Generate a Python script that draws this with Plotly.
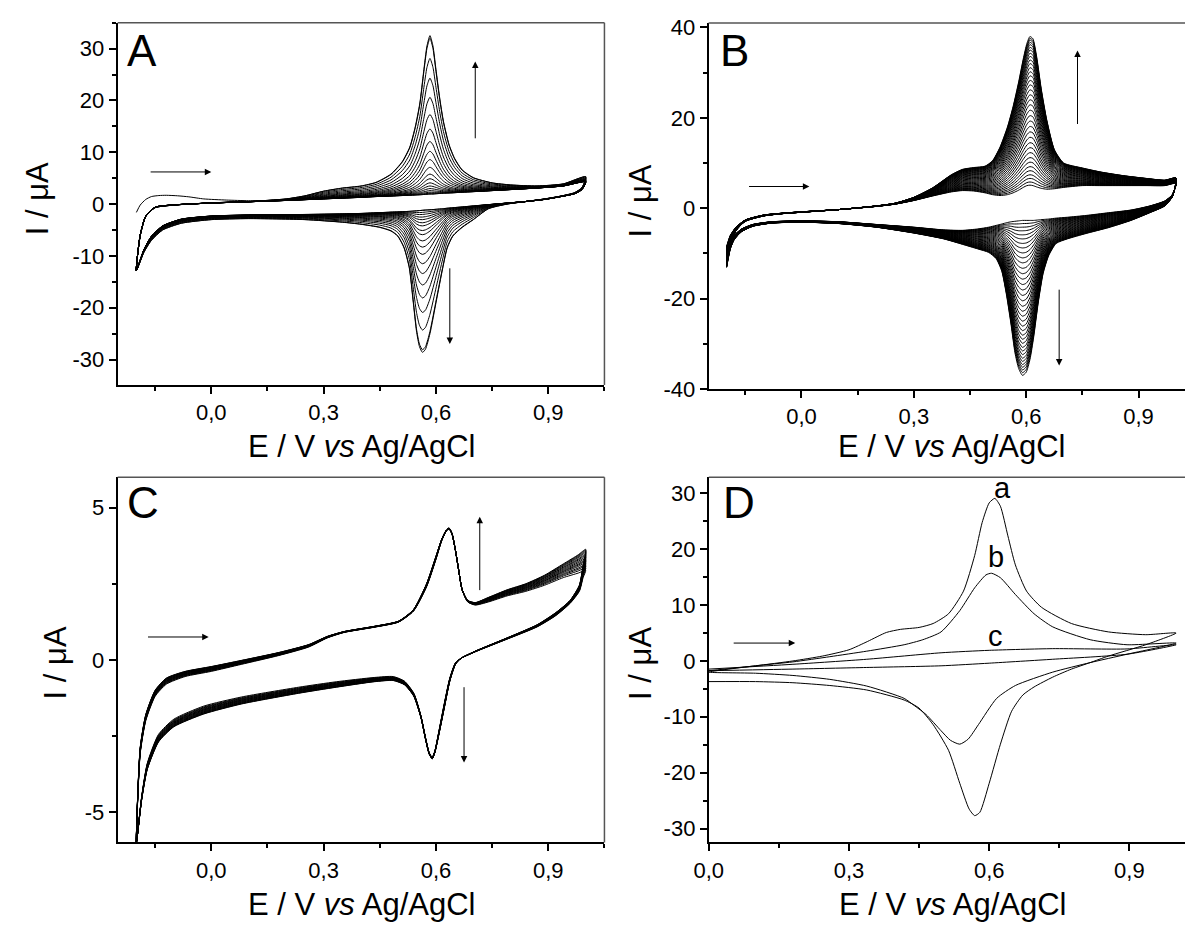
import plotly.graph_objects as go

W, H = 1185, 932

# ---------------- Panel A (multi-cycle CV) ----------------
A_E_fwd = [-0.20, -0.19, -0.175, -0.15, -0.10, 0.00, 0.10, 0.20, 0.25, 0.30, 0.35, 0.40, 0.44, 0.48,
           0.51, 0.53, 0.545, 0.557, 0.567, 0.576, 0.584, 0.592, 0.60, 0.61, 0.62, 0.635, 0.65, 0.67,
           0.70, 0.75, 0.80, 0.87, 0.94, 1.00]
A_I_fwd_base = [-12.8, -6.0, -2.3, -0.6, -0.15, 0.2, 0.45, 0.7, 0.85, 1.0, 1.15, 1.3, 1.45, 1.55,
                1.65, 1.7, 1.75, 1.8, 1.85, 1.9, 1.95, 1.95, 2.0, 2.05, 2.1, 2.15, 2.2, 2.3,
                2.4, 2.6, 2.8, 3.1, 3.5, 4.3]
A_I_fwd_last = [-12.8, -6.2, -2.4, -0.7, -0.2, 0.25, 0.5, 1.0, 1.6, 2.5, 3.1, 3.5, 4.2, 5.8,
                8.2, 11.0, 15.0, 19.5, 25.5, 30.5, 32.5, 30.5, 26.0, 20.5, 16.0, 11.5, 8.8, 6.6,
                5.1, 4.1, 3.7, 3.5, 3.9, 5.3]
A_E_rev = [0.99, 0.97, 0.93, 0.89, 0.84, 0.79, 0.74, 0.70, 0.67, 0.645, 0.63, 0.618, 0.601, 0.584,
           0.572, 0.564, 0.556, 0.548, 0.539, 0.529, 0.515, 0.498, 0.48, 0.45, 0.40, 0.35, 0.25,
           0.10, 0.00, -0.08, -0.13, -0.16, -0.18, -0.20]
A_I_rev_base = [2.8, 2.0, 1.4, 0.9, 0.5, 0.2, -0.1, -0.35, -0.55, -0.7, -0.8, -0.9, -1.0, -1.1,
                -1.15, -1.2, -1.25, -1.3, -1.35, -1.4, -1.45, -1.5, -1.55, -1.65, -1.8, -1.9, -2.0,
                -2.1, -2.3, -2.9, -4.2, -6.2, -8.8, -12.8]
A_I_rev_last = [3.2, 2.2, 1.5, 1.0, 0.5, 0.0, -0.9, -3.0, -4.5, -6.2, -8.5, -12.4, -18.7, -25.0,
                -28.0, -28.6, -27.5, -24.5, -18.7, -12.4, -8.5, -6.2, -5.2, -4.5, -3.9, -3.5, -3.0,
                -2.8, -3.0, -3.7, -5.0, -7.0, -9.3, -12.8]
A_anodic_peaks = [1.95, 2.1, 2.3, 2.6, 3.0, 3.5, 4.1, 4.9, 5.8, 7.1, 8.6, 10.2, 12.1, 14.5, 17.3,
                  20.6, 24.3, 28.1, 32.0, 32.5]
A_cathodic_peaks = [-1.2, -1.6, -2.0, -2.5, -3.0, -3.6, -4.2, -5.1, -5.9, -7.1, -8.3, -9.7, -11.5,
                    -13.4, -15.6, -18.1, -20.9, -24.3, -28.1, -28.6]
# first (initial) scan start of panel A
A_first_E = [-0.20, -0.19, -0.175, -0.16, -0.14, -0.12, -0.09, -0.06, -0.02, 0.04, 0.10, 0.15]
A_first_I = [-1.6, -0.2, 0.9, 1.45, 1.65, 1.7, 1.6, 1.4, 1.0, 0.78, 0.65, 0.62]

# ---------------- Panel B ----------------
B_E_fwd = [-0.20, -0.19, -0.175, -0.15, -0.10, -0.05, 0.00, 0.10, 0.20, 0.25, 0.30, 0.35, 0.40,
           0.43, 0.46, 0.49, 0.51, 0.53, 0.55, 0.565, 0.58, 0.592, 0.602, 0.61, 0.618, 0.628,
           0.64, 0.655, 0.675, 0.70, 0.75, 0.80, 0.86, 0.92, 0.97, 1.00]
B_I_fwd_base = [-8.5, -6.0, -4.2, -2.6, -1.5, -1.1, -0.8, -0.3, 0.4, 0.9, 1.7, 2.7, 3.6,
                3.9, 3.8, 3.4, 3.0, 2.8, 3.0, 3.4, 4.0, 4.6, 5.0, 5.1, 5.0, 4.7,
                4.4, 4.2, 4.3, 4.6, 5.0, 5.0, 5.0, 5.0, 5.0, 5.5]
B_I_fwd_last = [-13.1, -8.0, -5.0, -2.9, -1.7, -1.2, -0.9, -0.3, 0.5, 1.1, 2.4, 4.5, 7.4,
                8.6, 9.0, 9.3, 10.5, 13.5, 18.0, 22.5, 28.0, 33.0, 36.5, 38.0, 37.5, 33.5,
                26.5, 19.5, 13.0, 10.0, 8.9, 8.0, 7.2, 6.6, 6.2, 6.7]
B_E_rev = [0.99, 0.97, 0.93, 0.88, 0.82, 0.76, 0.71, 0.68, 0.66, 0.645, 0.632, 0.62, 0.61, 0.60,
           0.59, 0.58, 0.57, 0.56, 0.548, 0.535, 0.52, 0.50, 0.47, 0.43, 0.38, 0.30, 0.20, 0.10,
           0.00, -0.08, -0.13, -0.16, -0.18, -0.19, -0.20]
B_I_rev_base = [3.0, 1.6, 0.5, -0.4, -1.0, -1.6, -2.0, -2.2, -2.4, -2.5, -2.6, -2.7, -2.7, -2.7,
                -2.7, -2.8, -2.9, -3.0, -3.2, -3.5, -3.8, -4.2, -4.6, -4.9, -4.8, -4.2, -3.6, -3.0,
                -2.8, -3.0, -3.6, -4.6, -6.0, -7.0, -8.5]
B_I_rev_last = [2.5, 0.5, -1.0, -2.7, -4.3, -5.6, -6.8, -7.8, -10.5, -14.5, -21.0, -28.5, -33.5,
                -36.3, -37.0, -35.5, -32.0, -26.0, -19.5, -14.0, -11.2, -9.8, -9.0, -8.0, -6.8,
                -5.5, -4.2, -3.4, -3.1, -3.3, -4.0, -5.2, -7.0, -9.0, -13.1]
B_anodic_peaks = [5.1, 5.8, 6.6, 7.4, 8.3, 9.2, 10.2, 11.2, 12.3, 13.4, 14.5, 15.7, 16.9, 18.1,
                  19.3, 20.5, 21.7, 22.9, 24.0, 25.1, 26.2, 27.3, 28.3, 29.3, 30.2, 31.1, 32.0,
                  32.8, 33.6, 34.3, 35.0, 35.6, 36.2, 36.7, 37.2, 37.6, 38.0]
B_cathodic_peaks = [-2.7, -3.4, -4.2, -5.0, -5.9, -6.8, -7.8, -8.8, -9.9, -11.0, -12.1, -13.3,
                    -14.5, -15.7, -16.9, -18.1, -19.3, -20.5, -21.7, -22.8, -23.9, -25.0, -26.1,
                    -27.1, -28.1, -29.0, -29.9, -30.8, -31.6, -32.4, -33.2, -33.9, -34.6, -35.2,
                    -35.8, -36.4, -37.0]

# ---------------- Panel C ----------------
C_E_fwd = [-0.20, -0.19, -0.175, -0.15, -0.12, -0.07, 0.00, 0.08, 0.18, 0.26, 0.31, 0.355, 0.435,
           0.50, 0.54, 0.575, 0.60, 0.615, 0.627, 0.635, 0.643, 0.652, 0.66, 0.67, 0.685, 0.705,
           0.74, 0.79, 0.84, 0.89, 0.94, 0.98, 1.00]
C_I_fwd_base = [-6.0, -3.1, -2.0, -1.2, -0.8, -0.55, -0.38, -0.15, 0.14, 0.42, 0.72, 0.9, 1.07,
                1.24, 1.6, 2.4, 3.3, 3.9, 4.22, 4.3, 4.12, 3.6, 3.0, 2.3, 1.9, 1.8,
                1.9, 2.1, 2.25, 2.45, 2.7, 2.85, 2.94]
C_I_fwd_last = [-6.0, -2.9, -1.8, -1.0, -0.6, -0.38, -0.22, -0.02, 0.24, 0.5, 0.77, 0.93, 1.1,
                1.27, 1.65, 2.5, 3.4, 3.95, 4.25, 4.33, 4.15, 3.6, 3.0, 2.3, 1.95, 1.88,
                2.05, 2.3, 2.5, 2.78, 3.15, 3.45, 3.63]
C_E_rev = [0.993, 0.983, 0.958, 0.92, 0.87, 0.79, 0.708, 0.667, 0.652, 0.637, 0.622, 0.607, 0.597,
           0.59, 0.582, 0.572, 0.56, 0.541, 0.516, 0.486, 0.435, 0.334, 0.233, 0.081, -0.02,
           -0.10, -0.141, -0.171, -0.186, -0.20]
C_I_rev_base = [2.7, 2.25, 1.85, 1.45, 1.08, 0.68, 0.28, 0.05, -0.1, -0.6, -1.45, -2.4, -3.0,
                -3.2, -3.05, -2.55, -1.85, -1.1, -0.7, -0.55, -0.58, -0.72, -0.9, -1.22, -1.52,
                -1.95, -2.45, -3.4, -4.5, -6.0]
C_I_rev_last = [3.1, 2.45, 1.95, 1.55, 1.15, 0.72, 0.3, 0.05, -0.15, -0.7, -1.6, -2.5, -3.05,
                -3.25, -3.1, -2.6, -1.9, -1.2, -0.82, -0.68, -0.72, -0.9, -1.1, -1.45, -1.78,
                -2.2, -2.7, -3.6, -4.6, -6.0]
C_end_currents = [2.94, 3.02, 3.08, 3.13, 3.19, 3.24, 3.28, 3.33, 3.38, 3.43, 3.47, 3.52, 3.56,
                  3.60, 3.63]

# ---------------- Panel D (curves a, b, c) ----------------
D_a_E = [0.0, 0.1, 0.18, 0.243, 0.3, 0.34, 0.38, 0.41, 0.45, 0.48, 0.513, 0.545, 0.569, 0.585,
         0.6, 0.612, 0.624, 0.64, 0.656, 0.68, 0.712, 0.776, 0.855, 0.935, 1.0,
         0.935, 0.855, 0.816, 0.776, 0.736, 0.696, 0.672, 0.648, 0.624, 0.6, 0.58, 0.569, 0.557,
         0.537, 0.513, 0.48, 0.45, 0.418, 0.338, 0.259, 0.18, 0.1, 0.0]
D_a_I = [-1.75, -0.87, 0.0, 0.87, 2.0, 3.5, 5.1, 5.65, 6.0, 6.7, 8.45, 12.5, 18.9, 24.8,
         28.3, 29.1, 27.7, 22.4, 17.2, 12.5, 9.6, 6.7, 5.2, 4.7, 5.0,
         2.9, 0.87, -0.3, -1.46, -2.9, -4.66, -6.1, -9.0, -14.9, -21.9, -27.1, -27.7, -26.5,
         -21.9, -16.0, -11.4, -8.45, -7.0, -5.2, -4.4, -3.9, -3.7, -3.7]
D_b_E = [0.0, 0.1, 0.18, 0.259, 0.338, 0.418, 0.458, 0.497, 0.537, 0.569, 0.593, 0.605, 0.624,
         0.656, 0.696, 0.736, 0.816, 0.895, 1.0,
         0.895, 0.816, 0.736, 0.656, 0.616, 0.577, 0.555, 0.537, 0.517, 0.497, 0.465, 0.44, 0.418,
         0.338, 0.259, 0.18, 0.1, 0.0]
D_b_I = [-2.0, -0.87, -0.17, 0.76, 1.75, 2.9, 3.8, 5.2, 9.0, 13.1, 15.4, 15.7, 14.9,
         11.9, 8.45, 6.1, 3.8, 2.9, 3.2,
         1.2, -0.3, -2.0, -4.4, -6.7, -11.4, -14.0, -14.9, -14.2, -12.5, -9.6, -8.0, -6.7,
         -4.5, -3.3, -2.6, -2.2, -2.0]
D_c_E = [0.0, 0.18, 0.338, 0.497, 0.6, 0.736, 0.895, 1.0,
         0.895, 0.736, 0.6, 0.497, 0.338, 0.18, 0.0]
D_c_I = [-1.46, -0.6, 0.3, 1.46, 1.9, 2.2, 2.15, 2.9,
         1.2, 0.3, -0.4, -0.87, -1.17, -1.46, -1.75]
D_labels = ["a", "b", "c"]
D_label_E = [0.629, 0.615, 0.613]
D_label_I = [31.0, 18.6, 4.5]

# tick labels
X_TICKS = [0.0, 0.3, 0.6, 0.9]
X_TICKTEXT = ["0,0", "0,3", "0,6", "0,9"]
A_YTICKS = [-30, -20, -10, 0, 10, 20, 30]
B_YTICKS = [-40, -20, 0, 20, 40]
C_YTICKS = [-5, 0, 5]
D_YTICKS = [-30, -20, -10, 0, 10, 20, 30]

FONT = "Liberation Sans, Arial, sans-serif"
TICKSIZE = 22


def blend(base, last, value, idx):
    f = (value - base[idx]) / (last[idx] - base[idx])
    return [b + f * (l - b) for b, l in zip(base, last)]


fig = go.Figure()


def add(x, y, n):
    fig.add_trace(go.Scatter(x=x, y=y, mode="lines",
                             line=dict(color="black", width=1, shape="spline", smoothing=0.6),
                             xaxis="x" + ("" if n == 1 else str(n)), yaxis="y" + ("" if n == 1 else str(n)),
                             showlegend=False, hoverinfo="skip"))


# Panel A
ia = A_I_fwd_last.index(max(A_I_fwd_last))
ic = A_I_rev_last.index(min(A_I_rev_last))
first_x = A_first_E + [e for e in A_E_fwd if e >= 0.2] + A_E_rev
first_y = A_first_I + [i for e, i in zip(A_E_fwd, A_I_fwd_base) if e >= 0.2] + A_I_rev_base
add(first_x, first_y, 1)
for pa, pc in zip(A_anodic_peaks, A_cathodic_peaks):
    y = blend(A_I_fwd_base, A_I_fwd_last, pa, ia) + blend(A_I_rev_base, A_I_rev_last, pc, ic)
    add(A_E_fwd + A_E_rev, y, 1)

# Panel B
ia = B_I_fwd_last.index(max(B_I_fwd_last))
ic = B_I_rev_last.index(min(B_I_rev_last))
for pa, pc in zip(B_anodic_peaks, B_cathodic_peaks):
    y = blend(B_I_fwd_base, B_I_fwd_last, pa, ia) + blend(B_I_rev_base, B_I_rev_last, pc, ic)
    add(B_E_fwd + B_E_rev, y, 2)

# Panel C
ie = len(C_E_fwd) - 1
for v in C_end_currents:
    f = (v - C_I_fwd_base[ie]) / (C_I_fwd_last[ie] - C_I_fwd_base[ie])
    y = [b + f * (l - b) for b, l in zip(C_I_fwd_base, C_I_fwd_last)] + \
        [b + f * (l - b) for b, l in zip(C_I_rev_base, C_I_rev_last)]
    add(C_E_fwd + C_E_rev, y, 3)

# Panel D
add(D_a_E, D_a_I, 4)
add(D_b_E, D_b_I, 4)
add(D_c_E, D_c_I, 4)


def px(x):
    return x / W


def py(y):
    return 1 - y / H


def xax(dom, rng, minor_vals, ticks=X_TICKS, text=X_TICKTEXT):
    return dict(domain=[px(dom[0]), px(dom[1])], range=rng, tickmode="array", tickvals=ticks,
                ticktext=text, ticks="outside", ticklen=7, tickwidth=1.5, tickcolor="black",
                showline=True, linewidth=2, linecolor="black", mirror=False, showgrid=False,
                zeroline=False, tickfont=dict(size=TICKSIZE, color="black", family=FONT),
                minor=dict(tickmode="array", tickvals=minor_vals, ticks="outside", ticklen=4,
                           tickwidth=1.5, tickcolor="black", showgrid=False))


def yax(dom, rng, ticks, minor_vals, anchor):
    return dict(domain=[py(dom[1]), py(dom[0])], range=rng, tickmode="array", tickvals=ticks,
                ticktext=[str(t) for t in ticks], ticks="outside", ticklen=7, tickwidth=1.5,
                tickcolor="black", showline=True, linewidth=2, linecolor="black", mirror=False,
                showgrid=False, zeroline=False, anchor=anchor,
                tickfont=dict(size=TICKSIZE, color="black", family=FONT),
                minor=dict(tickmode="array", tickvals=minor_vals, ticks="outside", ticklen=4,
                           tickwidth=1.5, tickcolor="black", showgrid=False))


A_dom_x, A_dom_y = (104, 597), (15, 385.7)
B_dom_x, B_dom_y = (702.5, 1185), (15.3, 389.7)
C_dom_x, C_dom_y = (104, 597), (480, 853.7)
D_dom_x, D_dom_y = (702.7, 1185), (480, 853.7)

fig.update_layout(
    width=W, height=H, margin=dict(l=0, r=0, t=0, b=0),
    paper_bgcolor="white", plot_bgcolor="white",
    font=dict(family=FONT, color="black"),
    xaxis=dict(xax(A_dom_x, [-0.25, 1.05], [-0.15, 0.15, 0.45, 0.75, 1.05]), anchor="y"),
    yaxis=yax(A_dom_y, [-34.9, 35.0], A_YTICKS, [-25, -15, -5, 5, 15, 25, 35], "x"),
    xaxis2=dict(xax(B_dom_x, [-0.248, 1.024], [-0.15, 0.15, 0.45, 0.75]), anchor="y2"),
    yaxis2=yax(B_dom_y, [-40, 41], B_YTICKS, [-30, -10, 10, 30], "x2"),
    xaxis3=dict(xax(C_dom_x, [-0.25, 1.05], [-0.15, 0.15, 0.45, 0.75, 1.05]), anchor="y3"),
    yaxis3=yax(C_dom_y, [-6, 6], C_YTICKS, [-2.5, 2.5], "x3"),
    xaxis4=dict(xax(D_dom_x, [0, 1.019], [0.15, 0.45, 0.75]), anchor="y4"),
    yaxis4=yax(D_dom_y, [-32.5, 32.9], D_YTICKS, [-25, -15, -5, 5, 15, 25], "x4"),
)

# thin top / right frame lines
shapes = []
for (dx, dy, right) in [(A_dom_x, A_dom_y, True), (B_dom_x, B_dom_y, False),
                        (C_dom_x, C_dom_y, True), (D_dom_x, D_dom_y, False)]:
    shapes.append(dict(type="line", xref="paper", yref="paper", x0=px(dx[0]), x1=px(dx[1]),
                       y0=py(dy[0]), y1=py(dy[0]), line=dict(color="#555", width=1.5)))
    if right:
        shapes.append(dict(type="line", xref="paper", yref="paper", x0=px(dx[1]), x1=px(dx[1]),
                           y0=py(dy[0]), y1=py(dy[1]), line=dict(color="#555", width=1.5)))
fig.update_layout(shapes=shapes)

ann = []
XTITLE = "E / V <i>vs</i> Ag/AgCl"
YTITLE = "I / \u03bcA"
for (cx, cy) in [(350.5, 449), (948, 449), (350.5, 917), (950, 917)]:
    ann.append(dict(text=XTITLE, x=px(cx), y=py(cy), xref="paper", yref="paper", showarrow=False,
                    xanchor="center", yanchor="middle", font=dict(size=31, family=FONT, color="black")))
for (cx, cy) in [(23, 195), (634, 197), (41, 670), (634, 670)]:
    ann.append(dict(text=YTITLE, x=px(cx), y=py(cy), xref="paper", yref="paper", showarrow=False,
                    textangle=-90, xanchor="center", yanchor="middle",
                    font=dict(size=31, family=FONT, color="black")))
for (lbl, lx, ly) in [("A", 111, 43), ("B", 712, 43), ("C", 111, 506), ("D", 715, 506)]:
    ann.append(dict(text=lbl, x=px(lx), y=py(ly), xref="paper", yref="paper", showarrow=False,
                    xanchor="left", yanchor="middle", font=dict(size=44, family=FONT, color="black")))
# D curve labels
for t, e, i in zip(D_labels, D_label_E, D_label_I):
    ann.append(dict(text=t, x=e, y=i, xref="x4", yref="y4", showarrow=False,
                    font=dict(size=29, family=FONT, color="black")))

# arrows (tail -> head) in data coordinates
ARROWS = [
    ("x", "y", -0.166, 6.2, 0.0, 6.2), ("x", "y", 0.705, 12.4, 0.705, 27.5),
    ("x", "y", 0.637, -12.1, 0.637, -27.0),
    ("x2", "y2", -0.144, 4.8, 0.021, 4.8), ("x2", "y2", 0.737, 18.3, 0.737, 34.9),
    ("x2", "y2", 0.688, -17.7, 0.688, -34.8),
    ("x3", "y3", -0.173, 0.75, -0.007, 0.75), ("x3", "y3", 0.717, 2.24, 0.717, 4.70),
    ("x3", "y3", 0.675, -0.85, 0.675, -3.37),
    ("x4", "y4", 0.05, 3.2, 0.185, 3.2),
]
for xr, yr, x0, y0, x1, y1 in ARROWS:
    ann.append(dict(x=x1, y=y1, ax=x0, ay=y0, xref=xr, yref=yr, axref=xr, ayref=yr, text="",
                    showarrow=True, arrowhead=2, arrowsize=1.3, arrowwidth=1, arrowcolor="black"))
fig.update_layout(annotations=ann)

fig.write_html("out.html")
